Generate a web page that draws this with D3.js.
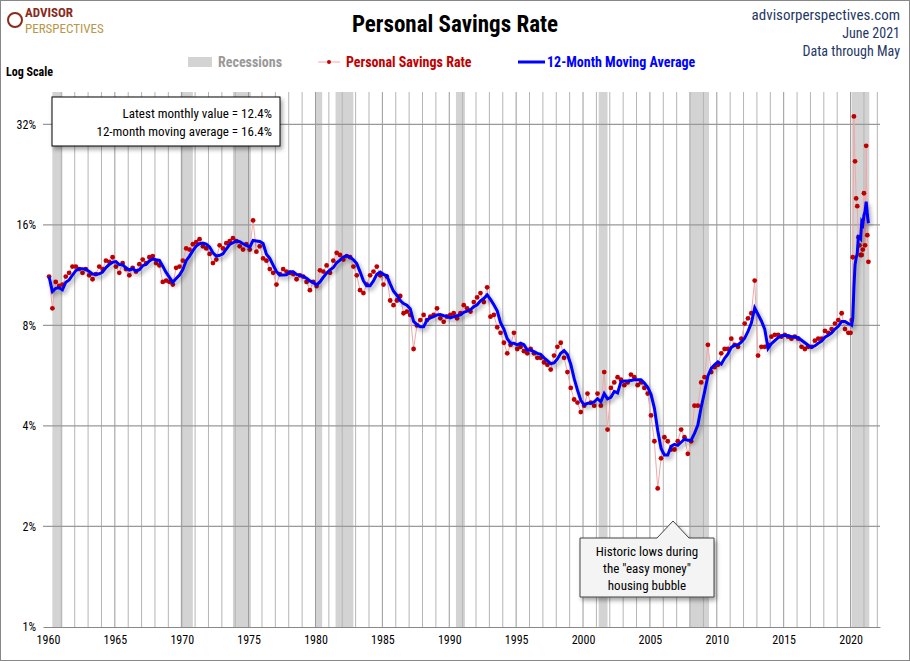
<!DOCTYPE html>
<html><head><meta charset="utf-8">
<script src="https://cdn.jsdelivr.net/npm/d3@7"></script>
<style>
body{margin:0;background:#fff;}
text{font-family:"Liberation Sans Narrow","Roboto Condensed","DejaVu Sans Condensed",sans-serif;}
</style></head>
<body><svg id="c" width="910" height="661"></svg>
<script>
// quarterly savings rate readings, 1960..2019 (Q1..Q4 per row)
const quarterly = [
  [11.2, 9.0, 10.8, 10.5], [10.6, 11.2, 11.5, 12.0], [12.0, 11.8, 11.5, 11.8], [11.3, 11.0, 11.4, 12.0],
  [11.8, 12.5, 12.4, 12.8], [12.0, 11.5, 12.3, 11.8], [11.3, 11.9, 11.6, 12.2], [12.6, 12.3, 12.8, 12.9],
  [12.3, 12.1, 10.8, 10.9], [10.8, 10.6, 11.9, 12.0], [12.5, 13.6, 13.5, 14.0], [14.2, 14.5, 13.8, 13.6],
  [13.1, 12.3, 12.6, 13.9], [13.6, 14.1, 14.3, 14.6], [14.3, 13.8, 13.5, 14.0], [13.5, 16.5, 13.3, 13.8],
  [12.7, 12.5, 11.8, 11.5], [10.6, 11.4, 11.8, 11.6], [11.5, 11.4, 11.0, 11.3], [11.2, 10.8, 10.2, 10.8],
  [10.5, 11.7, 11.6, 12.1], [11.5, 12.5, 13.2, 13.0], [12.6, 12.9, 12.8, 12.0], [11.3, 10.2, 10.0, 10.6],
  [11.3, 11.6, 12.0, 11.3], [10.6, 11.2, 9.5, 9.2], [9.5, 9.8, 8.7, 8.8], [8.6, 6.8, 8.0, 8.3],
  [8.6, 8.3, 8.5, 8.6], [9.0, 8.4, 8.2, 8.5], [8.6, 8.7, 8.4, 8.7], [9.2, 9.0, 8.8, 9.4],
  [9.7, 10.0, 9.4, 10.4], [8.5, 8.6, 7.9, 7.6], [7.1, 6.6, 7.0, 7.6], [6.8, 6.9, 6.7, 6.6],
  [6.8, 6.6, 6.4, 6.4], [6.2, 6.1, 5.9, 6.5], [6.9, 7.1, 6.4, 5.8], [5.2, 4.8, 4.7, 4.4],
  [4.6, 5.0, 4.7, 4.6], [5.0, 4.6, 5.8, 3.9], [5.2, 5.4, 5.6, 5.5], [5.3, 5.4, 5.7, 5.6],
  [5.3, 5.4, 5.2, 5.0], [4.3, 3.6, 2.6, 3.2], [3.7, 3.6, 3.4, 3.4], [3.6, 3.9, 3.7, 3.3],
  [3.6, 4.6, 4.6, 5.4], [5.6, 7.0, 5.8, 6.0], [6.1, 6.6, 6.8, 6.8], [7.3, 7.0, 6.9, 7.3],
  [8.1, 8.4, 8.7, 10.9], [6.5, 6.9, 6.9, 7.0], [7.4, 7.5, 7.5, 7.4], [7.5, 7.4, 7.3, 7.4],
  [7.3, 6.9, 6.8, 6.9], [6.9, 7.2, 7.3, 7.3], [7.7, 7.6, 7.8, 8.1], [8.3, 8.7, 7.8, 7.6]
];
const firstYear = 1960;
// monthly readings, Jan 2020 .. May 2021
const monthly2020 = [7.6, 8.3, 12.8, 33.8, 24.8, 19.2, 18.2, 14.7, 13.9, 13.0, 13.0, 13.5,
                     19.9, 13.9, 27.6, 14.9, 12.4];
const recessions = [[1960.33, 1961.08], [1969.92, 1970.83], [1973.83, 1975.17], [1980.0, 1980.5],
  [1981.5, 1982.83], [1990.5, 1991.17], [2001.17, 2001.83], [2007.92, 2009.42], [2020.08, 2021.4]];
const yTicks = [1, 2, 4, 8, 16, 32];
const xTicks = d3.range(1960, 2021, 5);

// flatten into dated points with their spacing
const pts = [];
quarterly.forEach((row, i) => row.forEach((v, q) =>
  pts.push({t: firstYear + i + (q * 3 + 1) / 12, v, w: 0.25})));
monthly2020.forEach((v, m) => pts.push({t: 2020 + m / 12, v, w: 1 / 12}));

// trailing 12-month time-weighted average
const ma = pts.map(p => {
  const win = pts.filter(d => d.t <= p.t && d.t > p.t - 1);
  return {t: p.t, v: d3.sum(win, d => d.v * d.w) / d3.sum(win, d => d.w)};
});

const svg = d3.select("#c");
const L = 43, R = 880, T = 92, B = 627;
const x = d3.scaleLinear().domain([1959.63, 2022.2]).range([L, R]);
const y = d3.scaleLog().base(2).domain([1, 40]).range([B, T]);

const defs = svg.append("defs");
const f = defs.append("filter").attr("id", "sh").attr("x", "-10%").attr("y", "-10%").attr("width", "120%").attr("height", "130%");
f.append("feDropShadow").attr("dx", 2).attr("dy", 3).attr("stdDeviation", 2).attr("flood-color", "#000").attr("flood-opacity", 0.35);

svg.append("rect").attr("x", 0.5).attr("y", 0.5).attr("width", 909).attr("height", 660)
  .attr("fill", "#fff").attr("stroke", "#888");

// recessions
svg.append("g").selectAll("rect").data(recessions).join("rect")
  .attr("x", d => x(d[0])).attr("y", T).attr("width", d => x(d[1]) - x(d[0])).attr("height", B - T)
  .attr("fill", "#d3d3d3");

// yearly gridlines
svg.append("g").selectAll("line").data(d3.range(1961, 2023)).join("line")
  .attr("x1", d => x(d)).attr("x2", d => x(d)).attr("y1", T).attr("y2", B)
  .attr("stroke", d => d % 5 === 0 ? "#999" : "#b5b5b5").attr("stroke-width", 1);
svg.append("g").selectAll("line").data(yTicks.slice(1)).join("line")
  .attr("x1", L).attr("x2", R).attr("y1", d => y(d)).attr("y2", d => y(d))
  .attr("stroke", "#999").attr("stroke-width", 1.3);

// axes
const xa = svg.append("g").attr("transform", `translate(0,${B})`)
  .call(d3.axisBottom(x).tickValues(xTicks).tickSize(0).tickFormat(d3.format("d")));
xa.select(".domain").attr("stroke", "#888");
xa.selectAll("text").attr("dy", 14).attr("font-size", 12).attr("fill", "#000");
const ya = svg.append("g").attr("transform", `translate(${L},0)`)
  .call(d3.axisLeft(y).tickValues(yTicks).tickSize(0).tickFormat(d => d + "%"));
ya.select(".domain").remove();
ya.selectAll("text").attr("dx", -4).attr("font-size", 12).attr("fill", "#000");

// series
svg.append("path").datum(pts).attr("fill", "none").attr("stroke", "#f0a8a8").attr("stroke-width", 1)
  .attr("d", d3.line().x(d => x(d.t)).y(d => y(d.v)));
svg.append("g").selectAll("circle").data(pts).join("circle")
  .attr("cx", d => x(d.t)).attr("cy", d => y(d.v)).attr("r", 2.4).attr("fill", "#c00000");
svg.append("path").datum(ma).attr("fill", "none").attr("stroke", "#0000ff").attr("stroke-width", 3)
  .attr("filter", "url(#sh)").attr("d", d3.line().x(d => x(d.t)).y(d => y(d.v)));

// header
svg.append("text").attr("x", 455).attr("y", 32).attr("text-anchor", "middle").attr("font-size", 23)
  .attr("font-weight", "bold").text("Personal Savings Rate");
const hdr = ["advisorperspectives.com", "June 2021", "Data through May"];
hdr.forEach((t, i) => svg.append("text").attr("x", 900).attr("y", 20 + i * 18).attr("text-anchor", "end")
  .attr("font-size", i ? 14 : 15).attr("fill", "#1f3864").text(t));
svg.append("circle").attr("cx", 15).attr("cy", 20).attr("r", 7).attr("fill", "none").attr("stroke", "#8b2a1a").attr("stroke-width", 2);
svg.append("text").attr("x", 25).attr("y", 17).attr("font-size", 13).attr("font-weight", "bold").attr("fill", "#8b2a1a").text("ADVISOR");
svg.append("text").attr("x", 25).attr("y", 33).attr("font-size", 13).attr("fill", "#b8974a").text("PERSPECTIVES");
svg.append("text").attr("x", 6).attr("y", 76).attr("font-size", 12).attr("font-weight", "bold").text("Log Scale");

// legend
svg.append("rect").attr("x", 188).attr("y", 57).attr("width", 24).attr("height", 10).attr("fill", "#d3d3d3");
svg.append("text").attr("x", 218).attr("y", 67).attr("font-size", 14).attr("font-weight", "bold").attr("fill", "#999").text("Recessions");
svg.append("line").attr("x1", 318).attr("x2", 340).attr("y1", 62).attr("y2", 62).attr("stroke", "#f0a8a8");
svg.append("circle").attr("cx", 329).attr("cy", 62).attr("r", 2).attr("fill", "#c00000");
svg.append("text").attr("x", 346).attr("y", 67).attr("font-size", 14).attr("font-weight", "bold").attr("fill", "#c00000").text("Personal Savings Rate");
svg.append("line").attr("x1", 518).attr("x2", 545).attr("y1", 62).attr("y2", 62).attr("stroke", "#0000ff").attr("stroke-width", 3);
svg.append("text").attr("x", 547).attr("y", 67).attr("font-size", 14).attr("font-weight", "bold").attr("fill", "#0000ff").text("12-Month Moving Average");

// info box
svg.append("rect").attr("x", 52).attr("y", 97).attr("width", 228).attr("height", 49)
  .attr("fill", "#fff").attr("stroke", "#000").attr("filter", "url(#sh)");
svg.append("text").attr("x", 272).attr("y", 118).attr("text-anchor", "end").attr("font-size", 13).text("Latest monthly value = 12.4%");
svg.append("text").attr("x", 272).attr("y", 136).attr("text-anchor", "end").attr("font-size", 13).text("12-month moving average = 16.4%");

// callout
svg.append("path").attr("d", "M580,538 L657,538 L673,521 L689,538 L714,538 L714,597 L580,597 Z")
  .attr("fill", "#f4f4f4").attr("stroke", "#444").attr("filter", "url(#sh)");
["Historic lows during", "the \"easy money\"", "housing bubble"].forEach((t, i) =>
  svg.append("text").attr("x", 647).attr("y", 556 + i * 17).attr("text-anchor", "middle").attr("font-size", 13).text(t));
</script></body></html>
